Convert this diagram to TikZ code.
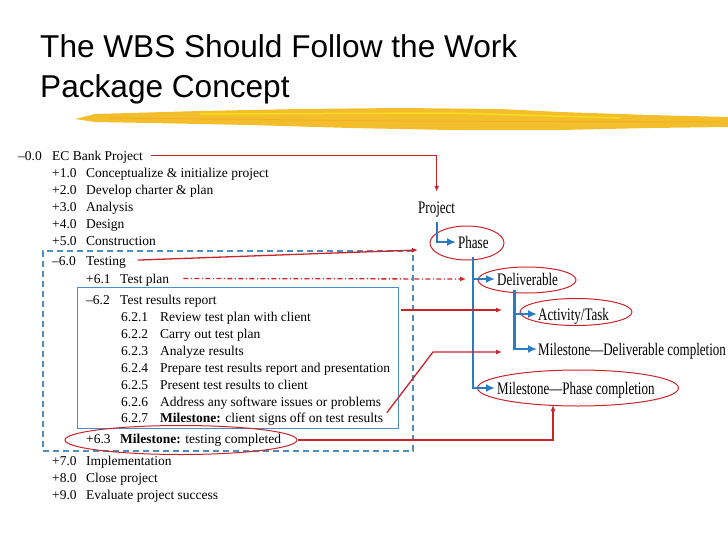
\documentclass[tikz,border=0pt]{standalone}
\usepackage{fontspec}
\setmainfont{Liberation Serif}
\newfontfamily\titlefont{Liberation Sans}
\newfontfamily\condfont[FakeStretch=0.74,Ligatures=TeX]{Liberation Serif}
\usetikzlibrary{positioning,arrows.meta,shapes.geometric}
\definecolor{wbsred}{HTML}{CC2229}
\definecolor{wbsblue}{HTML}{2A7CC2}
\definecolor{boxblue}{HTML}{4A8EC4}
\definecolor{brush}{HTML}{F2BE2C}
\newcommand{\wnum}[2]{\makebox[34pt][l]{#1}#2}
\newcommand{\wsub}[2]{\makebox[39pt][l]{#1}#2}

\begin{document}
\begin{tikzpicture}[x=1pt, y=-1pt,
  wline/.style={anchor=base west, inner sep=0pt, text height=9pt, text depth=0pt, font=\fontsize{13.5}{16}\selectfont},
  level/.style={anchor=base west, inner sep=0pt, text height=12pt, text depth=0pt, font=\condfont\fontsize{17.6}{20}\selectfont},
  ring/.style={draw=wbsred, line width=1pt, ellipse, inner sep=0pt},
  wbox/.style={draw=boxblue, anchor=north west, inner sep=0pt},
  redarr/.style={draw=wbsred, line width=1.3pt, -{Latex[length=6pt,width=5pt]}},
  bluearr/.style={draw=wbsblue, line width=2.2pt, -{Latex[length=9pt,width=8pt]}},
  ttl/.style={anchor=base west, inner sep=0pt, font=\titlefont\fontsize{31.6}{38}\selectfont}]
  \useasboundingbox (0,0) rectangle (728,546);

  % title and brush stroke
  \node[ttl] (title1) at (40,57) {The WBS Should Follow the Work};
  \node[ttl] (title2) at (40,97) {Package Concept};
  \fill[brush] (75,119) -- (95,114) -- (200,111) -- (300,109) -- (400,108) -- (500,109)
    -- (560,112) -- (650,115) -- (728,117) -- (728,127) -- (650,128) -- (560,130)
    -- (450,130) -- (350,128) -- (250,125) -- (150,123) -- (95,122) -- cycle;
  \draw[brush!75!orange, line width=1pt] (110,118) -- (400,121) -- (720,122);
  \draw[yellow!55!brush, line width=1.5pt] (200,114) -- (450,113) -- (620,118);

  % frames
  \node[wbox, dash pattern=on 6pt off 4pt, line width=1.5pt, minimum width=370pt, minimum height=200pt] (testbox) at (42,250) {};
  \node[wbox, line width=1.4pt, minimum width=321pt, minimum height=141pt] (rbox) at (77,287) {};

  % WBS outline
  \node[wline] (l00) at (18,160) {\wnum{--0.0}{EC Bank Project}};
  \node[wline] (l10) at (52,177) {\wnum{+1.0}{Conceptualize \& initialize project}};
  \node[wline] (l20) at (52,194) {\wnum{+2.0}{Develop charter \& plan}};
  \node[wline] (l30) at (52,211) {\wnum{+3.0}{Analysis}};
  \node[wline] (l40) at (52,228) {\wnum{+4.0}{Design}};
  \node[wline] (l50) at (52,245) {\wnum{+5.0}{Construction}};
  \node[wline] (l60) at (52,265) {\wnum{--6.0}{Testing}};
  \node[wline] (l61) at (86,283) {\wnum{+6.1}{Test plan}};
  \node[wline] (l62) at (86,304) {\wnum{--6.2}{Test results report}};
  \node[wline] (l621) at (121,321) {\wsub{6.2.1}{Review test plan with client}};
  \node[wline] (l622) at (121,338) {\wsub{6.2.2}{Carry out test plan}};
  \node[wline] (l623) at (121,355) {\wsub{6.2.3}{Analyze results}};
  \node[wline] (l624) at (121,372) {\wsub{6.2.4}{Prepare test results report and presentation}};
  \node[wline] (l625) at (121,389) {\wsub{6.2.5}{Present test results to client}};
  \node[wline] (l626) at (121,406) {\wsub{6.2.6}{Address any software issues or problems}};
  \node[wline] (l627) at (121,422) {\wsub{6.2.7}{\textbf{Milestone:} client signs off on test results}};
  \node[wline] (l63) at (86,443) {\wnum{+6.3}{\textbf{Milestone:} testing completed}};
  \node[wline] (l70) at (52,465) {\wnum{+7.0}{Implementation}};
  \node[wline] (l80) at (52,482) {\wnum{+8.0}{Close project}};
  \node[wline] (l90) at (52,499) {\wnum{+9.0}{Evaluate project success}};

  % hierarchy levels
  \node[level] (project) at (418,213) {Project};
  \node[level] (phase) at (458,248) {Phase};
  \node[level] (deliv) at (497,285) {Deliverable};
  \node[level] (task) at (538,320) {Activity/Task};
  \node[level] (msdel) at (538,355) {Milestone---Deliverable completion};
  \node[level] (msphase) at (497,394) {Milestone---Phase completion};

  % rings
  \node[ring, minimum width=74pt, minimum height=34pt] (phasering) at (467,243) {};
  \node[ring, minimum width=98pt, minimum height=26pt] (delivring) at (527,280) {};
  \node[ring, minimum width=112pt, minimum height=27pt] (taskring) at (576,312) {};
  \node[ring, minimum width=201pt, minimum height=36pt] (msphring) at (578,388) {};
  \node[ring, minimum width=232pt, minimum height=29pt] (ring63) at (181,440) {};

  \draw[bluearr, shorten <=9pt, shorten >=2pt] (project.south) |- (phase.west);
  \draw[bluearr, shorten <=9pt, shorten >=2pt] (phase.south) |- (deliv.west);
  \draw[bluearr, shorten <=9pt, shorten >=2pt] (phase.south) |- (msphase.west);
  \draw[bluearr, shorten <=5pt, shorten >=1pt] ([xshift=-13pt]deliv.south) |- (task.west);
  \draw[bluearr, shorten <=5pt, shorten >=1pt] ([xshift=-13pt]deliv.south) |- (msdel.west);

  \coordinate (tphase) at (418,250);
  \coordinate (tdeliv) at (466,279);
  \coordinate (ttask) at (502,310);
  \coordinate (bend) at (433,352);
  \coordinate (tmsdel) at (502,352);
  \coordinate (tmsph) at (553,405);
  \draw[redarr, shorten <=8pt, shorten >=9pt] (l00.east) -| (project.north);
  \draw[redarr, shorten <=12pt] (l60.east) -- (tphase);
  \draw[redarr, dash pattern=on 5pt off 2.5pt on 1pt off 2.5pt, shorten <=14pt] (l61.east) -- (tdeliv);
  \draw[redarr, shorten <=2pt] (ttask -| rbox.east) -- (ttask);
  \draw[redarr, shorten <=6pt] (l627.east) -- (bend) -- (tmsdel);
  \draw[redarr] (ring63.east) -| (tmsph);
\end{tikzpicture}
\end{document}
